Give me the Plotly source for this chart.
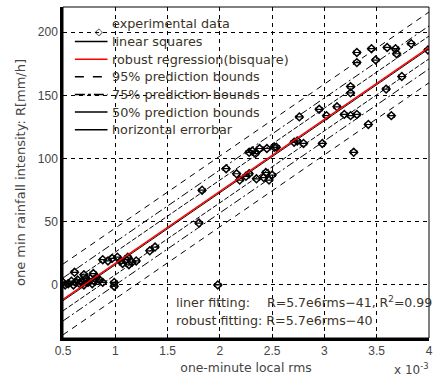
import plotly.graph_objects as go

# rms values in units of 1e-3, rainfall intensity in mm/h
rms = [0.50, 0.52, 0.55, 0.58, 0.60, 0.62, 0.64, 0.66, 0.68, 0.70, 0.72, 0.74, 0.76, 0.78,
       0.80, 0.82, 0.85, 0.88, 0.61, 0.70, 0.79,
       0.88, 0.93, 0.97, 1.02, 1.05, 1.07, 1.10, 1.13, 1.16, 1.20, 1.12,
       0.99, 0.99, 1.98, 1.33, 1.38, 1.80, 1.83,
       2.06, 2.16, 2.19, 2.25, 2.28, 2.35, 2.42, 2.44, 2.50, 2.47,
       2.28, 2.31, 2.34, 2.38, 2.45, 2.52,
       2.54, 2.71, 2.80, 2.98, 2.74, 2.76, 2.95, 3.02, 3.12, 3.19, 3.25, 3.31, 3.42, 3.64,
       3.28, 3.25, 3.25, 3.59, 3.74, 3.31, 3.31, 3.45, 3.49, 3.60, 3.68, 3.69, 3.83, 3.99]
rain = [2, 0, 1, 3, 0, 2, 4, 1, 3, 0, 5, 2, 5, 1,
        3, 6, 4, 2, 10, 8, 9,
        20, 19, 21, 22, 19, 17, 20, 16, 18, 19, 22,
        2, -1, 0, 27, 30, 49, 75,
        92, 88, 83, 86, 88, 84, 85, 89, 87, 83,
        105, 106, 104, 108, 108, 109,
        109, 113, 112, 112, 114, 133, 139, 134, 141, 135, 134, 135, 127, 134,
        105, 152, 157, 155, 165, 176, 184, 187, 178, 188, 187, 183, 191, 186]
rms_err = 0.03

x_ticks = [0.5, 1, 1.5, 2, 2.5, 3, 3.5, 4]
y_ticks = [0, 50, 100, 150, 200]

# fitted models R = slope * rms + intercept
ls_slope, ls_icpt = 57.0, -41.0
rb_slope, rb_icpt = 57.0, -40.0
bounds = [("95% prediction bounds", 28.0, "6px,5px"),
          ("75% prediction bounds", 17.0, "8px,3px,2px,3px"),
          ("50% prediction bounds", 9.0, "5px,2px")]

# legend entries: label, line colour, dash (None = diamond marker)
legend_items = [("experimental data", None, None),
                ("linear squares", "black", "solid"),
                ("robust regression(bisquare)", "red", "solid"),
                ("95% prediction bounds", "black", "dash"),
                ("75% prediction bounds", "black", "10px,3px,3px,3px"),
                ("50% prediction bounds", "black", "solid"),
                ("horizontal errorbar", "black", "solid")]

x_line = [0.5, 4.0]
font = "DejaVu Sans"
txt_col = "#3a3428"

W, H = 438, 379
ML, MR, MT, MB = 63, 5, 7, 38
PW, PH = W - ML - MR, H - MT - MB


def px(x):
    return (x - ML) / PW


def py(y):
    return (H - MB - y) / PH


fig = go.Figure()
fig.add_trace(go.Scatter(
    x=rms, y=rain, mode="markers", name="experimental data",
    marker=dict(symbol="diamond-open", size=6, color="black", line=dict(width=1.5)),
    error_x=dict(type="constant", value=rms_err, color="black", thickness=1.2, width=2),
))
fig.add_trace(go.Scatter(x=x_line, y=[ls_slope * v + ls_icpt for v in x_line], mode="lines",
                         name="linear squares", line=dict(color="black", width=1)))
fig.add_trace(go.Scatter(x=x_line, y=[rb_slope * v + rb_icpt for v in x_line], mode="lines",
                         name="robust regression(bisquare)", line=dict(color="red", width=1.5)))
for name, off, dash in bounds:
    for sgn in (1, -1):
        fig.add_trace(go.Scatter(
            x=x_line, y=[rb_slope * v + rb_icpt + sgn * off for v in x_line], mode="lines",
            name=name, line=dict(color="black", width=1, dash=dash)))

axis_common = dict(showgrid=True, gridcolor="black", gridwidth=1.3, griddash="4px,4px",
                   zeroline=False, showline=True, linecolor="black", linewidth=2.5,
                   ticks="inside", ticklen=4, tickcolor="black",
                   tickfont=dict(family="Liberation Sans", size=12, color="#444"))
fig.update_xaxes(range=[0.5, 4.0], tickvals=x_ticks, ticktext=[f"{v:g}" for v in x_ticks],
                 title=dict(text="one-minute local rms", font=dict(family=font, size=12.4, color="#444"),
                            standoff=7), **axis_common)
fig.update_yaxes(range=[-42, 220], tickvals=y_ticks,
                 title=dict(text="one min rainfall intensity: R[mm/h]",
                            font=dict(family=font, size=13, color="#444"), standoff=10),
                 **axis_common)

fig.add_shape(type="rect", xref="paper", yref="paper", x0=0, y0=0, x1=1, y1=1,
              line=dict(color="black", width=1))

# legend drawn inside the axes, over the grid
for i, (label, col, dash) in enumerate(legend_items):
    yy = 24 + 17.8 * i
    if col is None:
        fig.add_annotation(xref="paper", yref="paper", x=px(93), y=py(yy), showarrow=False,
                           text="\u25c7", font=dict(family=font, size=10, color="black"))
    else:
        fig.add_shape(type="line", xref="paper", yref="paper", x0=px(75), x1=px(108),
                      y0=py(yy), y1=py(yy), line=dict(color=col, width=1.5, dash=dash))
    fig.add_annotation(xref="paper", yref="paper", x=px(111), y=py(yy), xanchor="left",
                       yanchor="middle", showarrow=False, text=label,
                       font=dict(family=font, size=12.8, color=txt_col))

fig.add_annotation(xref="paper", yref="paper", x=px(396), y=py(372), xanchor="left",
                   yanchor="middle", showarrow=False, text="x 10<sup>-3</sup>",
                   font=dict(family=font, size=12, color="#444"))
fig.add_annotation(xref="paper", yref="paper", x=px(175), y=py(305), xanchor="left",
                   yanchor="middle", showarrow=False, text="liner fitting:",
                   font=dict(family=font, size=12.7, color=txt_col))
fig.add_annotation(xref="paper", yref="paper", x=px(267), y=py(305), xanchor="left",
                   yanchor="middle", showarrow=False, text="R=5.7e6rms\u221241, R<sup>2</sup>=0.99",
                   font=dict(family=font, size=12.5, color=txt_col))
fig.add_annotation(xref="paper", yref="paper", x=px(175), y=py(323), xanchor="left",
                   yanchor="middle", showarrow=False, text="robust fitting: R=5.7e6rms\u221240",
                   font=dict(family=font, size=12.7, color=txt_col))

fig.update_layout(
    width=W, height=H, margin=dict(l=ML, r=MR, t=MT, b=MB),
    plot_bgcolor="white", paper_bgcolor="white", showlegend=False,
)
fig.write_html("out.html")
